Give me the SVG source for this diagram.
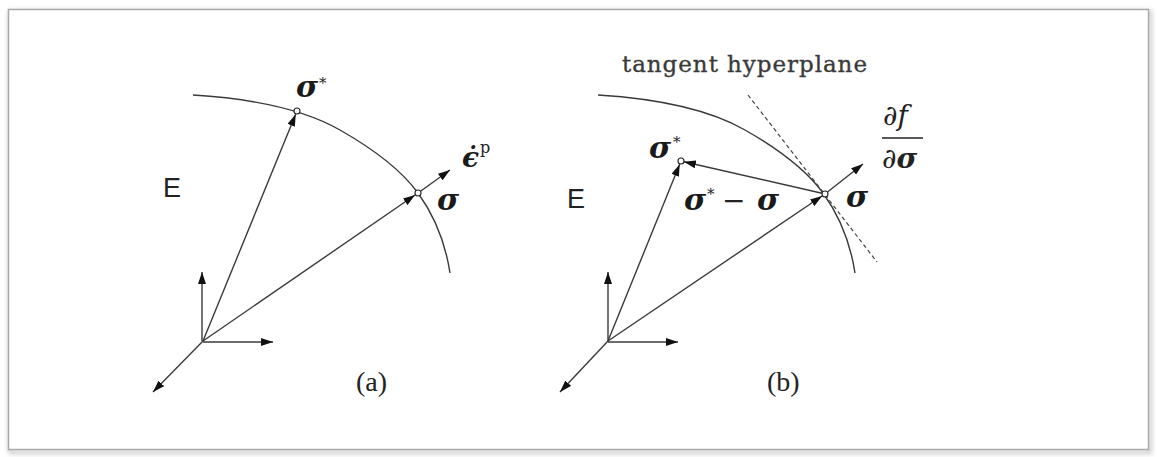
<svg xmlns="http://www.w3.org/2000/svg" width="1157" height="457" viewBox="0 0 1157 457">
<defs>
<marker id="ah" viewBox="0 0 12 8" refX="12" refY="4" markerWidth="12" markerHeight="8" markerUnits="userSpaceOnUse" orient="auto"><path d="M0,0 L12,4 L0,8 z" fill="#111"/></marker>
<filter id="sh" x="-5%" y="-5%" width="110%" height="110%"><feGaussianBlur stdDeviation="2.5"/></filter>
<path id="arc" d="M193,95 C242,98 298,106 340,130 C369,146.5 398.5,166.3 418,193 C435,216.5 445.6,244.3 450,273"/>
</defs>
<style>
.ln{stroke:#3a3a3a;stroke-width:1.4;fill:none}
.ar{stroke:#3a3a3a;stroke-width:1.4;fill:none;marker-end:url(#ah)}
.dash{stroke:#444;stroke-width:1.2;fill:none;stroke-dasharray:4 3}
.pt{fill:#fff;stroke:#222;stroke-width:1.1}
.sym{font-family:"DejaVu Serif",serif;font-weight:bold;font-style:italic;font-size:30px;fill:#1a1a1a}
.star{font-family:"DejaVu Serif",serif;font-size:15px;fill:#222}
.rm{font-family:"DejaVu Serif",serif;fill:#222}
.E{font-family:"Liberation Sans",Arial,sans-serif;font-size:27px;fill:#222}
.cap{font-family:"Liberation Serif",serif;font-size:28px;fill:#222}
</style>
<rect width="1157" height="457" fill="#fff"/>
<rect x="10" y="12" width="1140" height="440" fill="none" stroke="#bbb" stroke-width="3" filter="url(#sh)"/>
<rect x="8.5" y="9.5" width="1140" height="440" fill="#fff" stroke="#aaa" stroke-width="1.5"/>

<g id="connectors">
<!-- panel a -->
<use href="#arc" class="ln"/>
<line class="ar" x1="202" y1="341" x2="202" y2="272"/>
<line class="ar" x1="203" y1="342" x2="273" y2="342"/>
<line class="ar" x1="203" y1="341" x2="153" y2="392"/>
<line class="ar" x1="203" y1="341" x2="295.7" y2="114.2"/>
<line class="ar" x1="203" y1="341" x2="415.1" y2="195"/>
<line class="ar" x1="420.5" y1="191.2" x2="450" y2="170"/>
<!-- panel b -->
<use href="#arc" class="ln" transform="translate(405,0)"/>
<line class="dash" x1="748" y1="95" x2="877" y2="262"/>
<line class="ar" x1="608" y1="341" x2="608" y2="272"/>
<line class="ar" x1="608" y1="342" x2="678" y2="342"/>
<line class="ar" x1="608" y1="341" x2="560" y2="392"/>
<line class="ar" x1="608" y1="341" x2="679.7" y2="164.2"/>
<line class="ar" x1="608" y1="341" x2="822.1" y2="196"/>
<line class="ar" x1="822" y1="193.3" x2="683.9" y2="161.7"/>
<line class="ar" x1="827.5" y1="192" x2="863" y2="164"/>
</g>

<g id="panel-a-sigma-star">
<circle class="pt" cx="297" cy="111" r="3"/>
<text class="sym" x="296" y="97">σ</text>
<text class="star" x="319" y="88">*</text>
</g>
<g id="panel-a-sigma">
<circle class="pt" cx="418" cy="193" r="3"/>
<text class="sym" x="437" y="210">σ</text>
</g>
<g id="panel-a-epsdot">
<text class="sym" x="462" y="167" style="font-size:28px">ϵ̇</text>
<text class="rm" x="480" y="153" style="font-size:16px">p</text>
</g>
<g id="panel-a-E"><text class="E" x="163" y="197">E</text></g>
<g id="panel-a-caption"><text class="cap" x="356" y="391">(a)</text></g>

<g id="panel-b-tangent"><text class="rm" x="622" y="72" style="font-size:23px;fill:#3a3a3a;stroke:#3a3a3a;stroke-width:0.35" textLength="245" lengthAdjust="spacing">tangent hyperplane</text></g>
<g id="panel-b-sigma-star">
<circle class="pt" cx="681" cy="161" r="3"/>
<text class="sym" x="649" y="158">σ</text>
<text class="star" x="673" y="147">*</text>
</g>
<g id="panel-b-diff">
<text class="sym" x="684" y="210">σ</text>
<text class="star" x="707" y="199">*</text>
<text class="rm" x="722" y="210" style="font-size:28px">−</text>
<text class="sym" x="757" y="210">σ</text>
</g>
<g id="panel-b-sigma">
<circle class="pt" cx="825" cy="194" r="3"/>
<text class="sym" x="846" y="207">σ</text>
</g>
<g id="panel-b-grad">
<text class="rm" x="883" y="125" style="font-size:28px">∂<tspan style="font-style:italic">f</tspan></text>
<line x1="882" y1="138" x2="923" y2="138" stroke="#222" stroke-width="1.6"/>
<text class="rm" x="882" y="168" style="font-size:28px">∂<tspan style="font-style:italic;font-weight:bold">σ</tspan></text>
</g>
<g id="panel-b-E"><text class="E" x="567" y="208">E</text></g>
<g id="panel-b-caption"><text class="cap" x="767" y="391">(b)</text></g>
</svg>
